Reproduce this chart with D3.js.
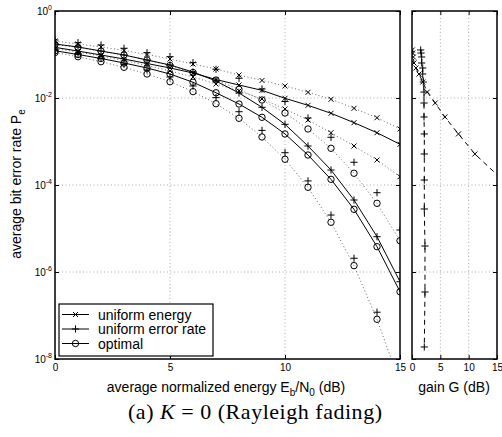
<!DOCTYPE html>
<html>
<head>
<meta charset="utf-8">
<script src="https://cdn.jsdelivr.net/npm/d3@7"></script>
<style>
  body { margin: 0; background: #fff; }
  svg text { font-family: "Liberation Sans", Arial, Helvetica, sans-serif; fill: #000; }
</style>
</head>
<body>
<svg id="chart" width="502" height="437"></svg>
<script>
// Eb/N0 in dB
const snr = [0,1,2,3,4,5,6,7,8,9,10,11,12,13,14,15];

// average bit error rate (solid lines)
const ueAvg  = [0.146,0.120,0.0974,0.0788,0.0621,0.0490,0.0376,0.0266,0.0199,0.0150,0.00984,0.00679,0.00445,0.00271,0.00159,0.000863];
const uerAvg = [0.174,0.149,0.120,0.0974,0.0748,0.0574,0.0396,0.0246,0.0130,0.00611,0.00248,0.000788,0.000221,4.52e-5,6.48e-6,5.98e-7];
const optAvg = [0.122,0.100,0.0810,0.0638,0.0490,0.0356,0.0230,0.0132,0.00728,0.00360,0.00149,0.000489,0.000135,2.76e-5,3.82e-6,3.52e-7];

// per-class error rates (dotted curves / loose markers)
const ueHi  = [0.204,0.174,0.149,0.124,0.100,0.0788,0.0605,0.0464,0.0338,0.0253,0.0189,0.0135,0.00934,0.00580,0.00352,0.00194];
const ueLo  = [0.137,0.114,0.0924,0.0728,0.0558,0.0418,0.0304,0.0210,0.0145,0.00948,0.00558,0.00312,0.00159,0.000788,0.000376,0.000155];
const uerHi = [0.215,0.187,0.165,0.139,0.110,0.0890,0.0648,0.0457,0.0284,0.0161,0.00831,0.00347,0.00125,0.000333,6.65e-5,9.24e-6];
const uerLo = [0.127,0.103,0.0810,0.0605,0.0441,0.0304,0.0189,0.0102,0.00484,0.00180,0.000553,0.000124,2.04e-5,2.07e-6,1.19e-7,4.3e-9];
const optHi = [0.170,0.145,0.120,0.0974,0.0748,0.0558,0.0386,0.0259,0.0158,0.00900,0.00452,0.00194,0.000698,0.000186,3.79e-5,5.25e-6];
const optLo = [0.111,0.0890,0.0683,0.0508,0.0356,0.0237,0.0140,0.00739,0.00341,0.00127,0.000390,8.85e-5,1.39e-5,1.40e-6,8.18e-8,2.81e-9];

// right panel: gain G (dB) at given error rates
const peLevels = [0.127,0.108,0.0877,0.0638,0.0490,0.0356,0.0233,0.0137,0.00767,0.00366,0.00149,0.000516,0.000130,2.81e-5,3.96e-6,3.47e-7,1.89e-8];
const gainUE   = [0.05,0.12,0.23,0.35,0.7,1.24,1.9,2.7,4.1,5.8,8.2,11.1,16,21,27,34,42];
const gainUER  = [1.53,1.6,1.71,1.71,1.89,1.89,2.0,2.12,2.12,2.12,2.17,2.17,2.17,2.17,2.29,2.29,2.17];

const xTicks = [0,5,10,15];
const yTicks = [1,1e-2,1e-4,1e-6,1e-8];
const yExp = ["0","-2","-4","-6","-8"];
const legendLabels = ["uniform energy","uniform error rate","optimal"];

const svg = d3.select("#chart");
const yTop = 11, yBot = 359;

const y = d3.scaleLog().domain([1e-8, 1]).range([yBot, yTop]);
const x = d3.scaleLinear().domain([0, 15]).range([55, 400]);
const xg = d3.scaleLinear().domain([0, 15]).range([412, 497]);

function marker(g, type, cx, cy) {
  let p;
  if (type === "x") {
    const s = 2.5;
    p = `M${cx-s},${cy-s}L${cx+s},${cy+s}M${cx-s},${cy+s}L${cx+s},${cy-s}`;
    g.append("path").attr("d", p).attr("stroke", "#000").attr("stroke-width", 1).attr("fill", "none");
  } else if (type === "+") {
    const s = 3.6;
    p = `M${cx-s},${cy}L${cx+s},${cy}M${cx},${cy-s}L${cx},${cy+s}`;
    g.append("path").attr("d", p).attr("stroke", "#000").attr("stroke-width", 1).attr("fill", "none");
  } else {
    g.append("circle").attr("cx", cx).attr("cy", cy).attr("r", 3.2)
      .attr("stroke", "#000").attr("stroke-width", 1).attr("fill", "none");
  }
}

function panel(xs, id) {
  const x0 = xs.range()[0], x1 = xs.range()[1];
  svg.append("clipPath").attr("id", id).append("rect")
    .attr("x", x0).attr("y", yTop).attr("width", x1 - x0).attr("height", yBot - yTop);

  // grid
  const grid = svg.append("g").attr("stroke", "#999").attr("stroke-width", 0.8).attr("stroke-dasharray", "1,2.5");
  [5, 10].forEach(v => grid.append("line").attr("x1", xs(v)).attr("x2", xs(v)).attr("y1", yTop).attr("y2", yBot));
  [1e-2, 1e-4, 1e-6].forEach(v => grid.append("line").attr("x1", x0).attr("x2", x1).attr("y1", y(v)).attr("y2", y(v)));

  // ticks (inward)
  svg.append("g").attr("transform", `translate(0,${yBot})`)
    .call(d3.axisBottom(xs).tickValues(xTicks).tickSize(-4).tickSizeOuter(0).tickPadding(5))
    .call(g => g.select(".domain").remove())
    .call(g => g.selectAll("text").attr("font-size", 10).attr("fill", "#000"));
  svg.append("g").attr("transform", `translate(0,${yTop})`)
    .call(d3.axisTop(xs).tickValues(xTicks).tickSize(-4).tickSizeOuter(0).tickFormat(""))
    .call(g => g.select(".domain").remove());
  svg.append("g").attr("transform", `translate(${x0},0)`)
    .call(d3.axisLeft(y).tickValues(yTicks).tickSize(-4).tickSizeOuter(0).tickFormat(""))
    .call(g => g.select(".domain").remove());
  svg.append("g").attr("transform", `translate(${x1},0)`)
    .call(d3.axisRight(y).tickValues(yTicks).tickSize(-4).tickSizeOuter(0).tickFormat(""))
    .call(g => g.select(".domain").remove());

  return svg.append("g").attr("clip-path", `url(#${id})`);
}

// ---------- main panel ----------
const main = panel(x, "clipMain");

const line = d3.line().x((d, i) => x(snr[i])).y(d => y(d));

[ueHi, ueLo, optHi, optLo].forEach(s => {
  main.append("path").datum(s).attr("d", line).attr("fill", "none")
    .attr("stroke", "#555").attr("stroke-width", 0.9).attr("stroke-dasharray", "1,2.5");
});
[[ueHi, "x"], [ueLo, "x"], [uerHi, "+"], [uerLo, "+"], [optHi, "o"], [optLo, "o"]].forEach(([s, t]) => {
  s.forEach((v, i) => marker(main, t, x(snr[i]), y(v)));
});
[[ueAvg, "x"], [uerAvg, "+"], [optAvg, "o"]].forEach(([s, t]) => {
  main.append("path").datum(s).attr("d", line).attr("fill", "none")
    .attr("stroke", "#000").attr("stroke-width", 1);
  s.forEach((v, i) => marker(main, t, x(snr[i]), y(v)));
});

svg.append("rect").attr("x", 55).attr("y", yTop).attr("width", 345).attr("height", yBot - yTop)
  .attr("fill", "none").attr("stroke", "#000").attr("stroke-width", 1.5);

// y tick labels
const yl = svg.append("g").attr("font-size", 10);
yTicks.forEach((v, i) => {
  const t = yl.append("text").attr("x", 52).attr("y", y(v) + 3.5).attr("text-anchor", "end");
  t.append("tspan").text("10");
  t.append("tspan").attr("dy", -5).attr("font-size", 7).text(yExp[i]);
});

// legend
const lg = svg.append("g");
lg.append("rect").attr("x", 59).attr("y", 304).attr("width", 154).attr("height", 52)
  .attr("fill", "#fff").attr("stroke", "#000").attr("stroke-width", 1.2);
["x", "+", "o"].forEach((t, i) => {
  const cy = 314.5 + i * 14.5;
  lg.append("line").attr("x1", 62).attr("x2", 89).attr("y1", cy).attr("y2", cy).attr("stroke", "#000");
  marker(lg, t, 75.5, cy);
  lg.append("text").attr("x", 98).attr("y", cy + 5).attr("font-size", 14).text(legendLabels[i]);
});

// ---------- gain panel ----------
const side = panel(xg, "clipSide");
const gline = d3.line().x(d => xg(d)).y((d, i) => y(peLevels[i]));
[[gainUE, "x"], [gainUER, "+"]].forEach(([s, t]) => {
  side.append("path").datum(s).attr("d", gline).attr("fill", "none")
    .attr("stroke", "#000").attr("stroke-width", 1).attr("stroke-dasharray", "5,4");
  s.forEach((v, i) => marker(side, t, xg(v), y(peLevels[i])));
});
svg.append("rect").attr("x", 412).attr("y", yTop).attr("width", 85).attr("height", yBot - yTop)
  .attr("fill", "none").attr("stroke", "#000").attr("stroke-width", 1.5);

// ---------- labels ----------
const xl = svg.append("text").attr("x", 226).attr("y", 392).attr("text-anchor", "middle").attr("font-size", 14);
xl.append("tspan").text("average normalized energy E");
xl.append("tspan").attr("dy", 4).attr("font-size", 10).text("b");
xl.append("tspan").attr("dy", -4).text("/N");
xl.append("tspan").attr("dy", 4).attr("font-size", 10).text("0");
xl.append("tspan").attr("dy", -4).text(" (dB)");

svg.append("text").attr("x", 454).attr("y", 392).attr("text-anchor", "middle").attr("font-size", 14).text("gain G (dB)");

const ylab = svg.append("text").attr("transform", "translate(21,184) rotate(-90)")
  .attr("text-anchor", "middle").attr("font-size", 14);
ylab.append("tspan").text("average bit error rate P");
ylab.append("tspan").attr("dy", 4).attr("font-size", 10).text("e");

const cap = svg.append("text").attr("x", 128).attr("y", 419)
  .attr("font-size", 22).attr("textLength", 254).attr("lengthAdjust", "spacing")
  .style("font-family", "'Liberation Serif', 'Times New Roman', serif");
cap.append("tspan").text("(a) ");
cap.append("tspan").attr("font-style", "italic").text("K");
cap.append("tspan").text(" = 0 (Rayleigh fading)");
</script>
</body>
</html>
